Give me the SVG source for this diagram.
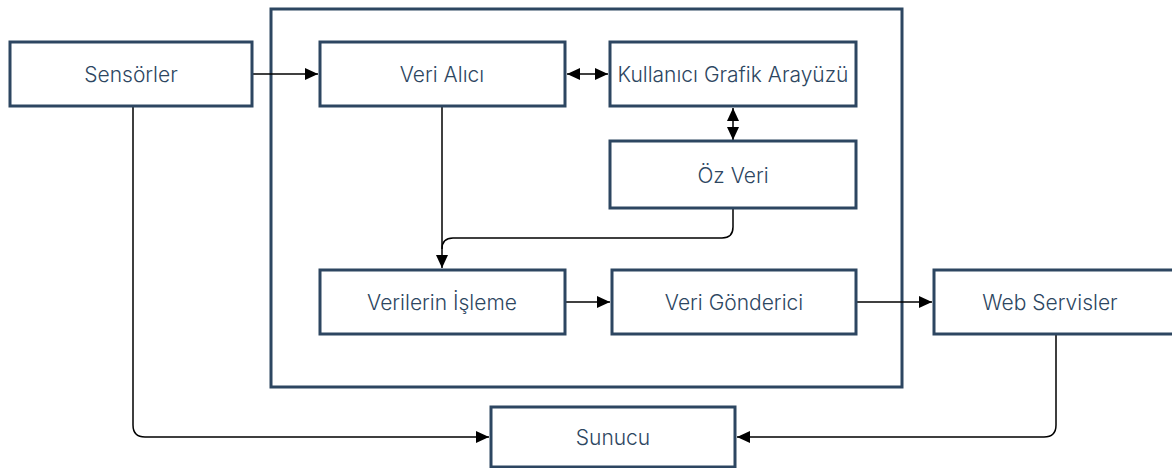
<svg xmlns="http://www.w3.org/2000/svg" width="1172" height="468" viewBox="0 0 1172 468">
  <defs>
    <marker id="arr" markerUnits="userSpaceOnUse" markerWidth="14" markerHeight="13" refX="13" refY="6" orient="auto-start-reverse" viewBox="0 0 14 13">
      <path d="M0,0 L13,6 L0,12 z" fill="#000"/>
    </marker>
    <style>
      .box { fill: #fff; stroke: #2d4661; stroke-width: 3; }
      .outer { fill: none; stroke: #2d4661; stroke-width: 3; }
      .lbl { font-family: Inter, "Liberation Sans", sans-serif; font-size: 21px; font-weight: 300; fill: #2d4661; text-anchor: middle; dominant-baseline: central; }
      .c { fill: none; stroke: #000; stroke-width: 1.5; }
    </style>
  </defs>
  <rect width="1172" height="468" fill="#fff"/>
  <rect id="container" class="outer" x="271" y="9" width="631" height="378"/>

  <g id="connectors">
    <path class="c" d="M252,74 H318" marker-end="url(#arr)"/>
    <path class="c" d="M567,74 H608" marker-start="url(#arr)" marker-end="url(#arr)"/>
    <path class="c" d="M733,108 V140" marker-start="url(#arr)" marker-end="url(#arr)"/>
    <path class="c" d="M442,106 V268" marker-end="url(#arr)"/>
    <path class="c" d="M733,208 V227 Q733,238 722,238 H453 Q442,238 442,249"/>
    <path class="c" d="M566,302 H610" marker-end="url(#arr)"/>
    <path class="c" d="M857,302 H932" marker-end="url(#arr)"/>
    <path class="c" d="M133,106 V425 Q133,437 145,437 H489" marker-end="url(#arr)"/>
    <path class="c" d="M1056,334 V425 Q1056,437 1044,437 H737" marker-end="url(#arr)"/>
  </g>

  <g id="sensorler"><rect class="box" x="10" y="42" width="242" height="64"/><text class="lbl" x="131" y="74">Sensörler</text></g>
  <g id="veri-alici"><rect class="box" x="320" y="42" width="245" height="64"/><text class="lbl" x="442" y="74">Veri Alıcı</text></g>
  <g id="kullanici-grafik-arayuzu"><rect class="box" x="610" y="42" width="246" height="64"/><text class="lbl" x="733" y="74">Kullanıcı Grafik Arayüzü</text></g>
  <g id="oz-veri"><rect class="box" x="610" y="141" width="246" height="67"/><text class="lbl" x="733" y="175">Öz Veri</text></g>
  <g id="verilerin-isleme"><rect class="box" x="320" y="270" width="245" height="64"/><text class="lbl" x="442" y="302">Verilerin İşleme</text></g>
  <g id="veri-gonderici"><rect class="box" x="612" y="270" width="244" height="64"/><text class="lbl" x="734" y="302">Veri Gönderici</text></g>
  <g id="web-servisler"><rect class="box" x="934" y="270" width="246" height="64"/><text class="lbl" x="1050" y="302">Web Servisler</text></g>
  <g id="sunucu"><rect class="box" x="491" y="407" width="244" height="60"/><text class="lbl" x="613" y="437">Sunucu</text></g>
</svg>
